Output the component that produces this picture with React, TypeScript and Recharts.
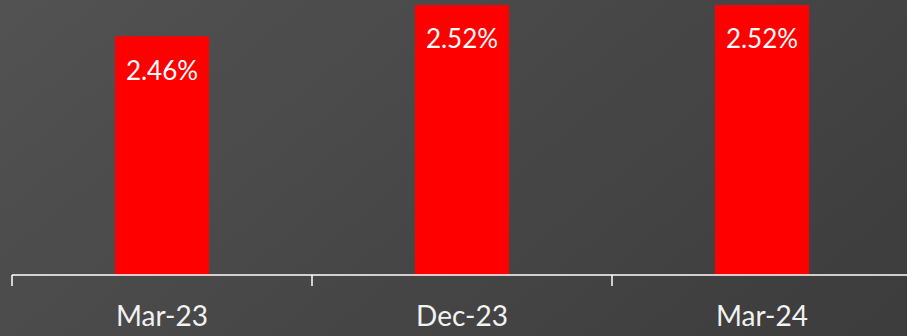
import { BarChart, Bar, XAxis, YAxis, LabelList } from 'recharts';

const periods = ['Mar-23', 'Dec-23', 'Mar-24'];
const ratios = [2.46, 2.52, 2.52];
const boundaryTicks = [0, 1, 2, 3];

const data = periods.map((name, i) => ({ name, idx: i, value: ratios[i] }));

const font = "Lato, 'Open Sans', sans-serif";

export default function App() {
  return (
    <div
      style={{
        position: 'fixed',
        left: 0,
        top: 0,
        width: 907,
        height: 336,
        overflow: 'hidden',
        background: 'linear-gradient(140deg, #525252 0%, #474747 50%, #3c3c3c 100%)',
      }}
    >
      <BarChart width={912} height={336} data={data} margin={{ top: 5, right: 0, left: 12, bottom: 0 }}>
        <YAxis hide domain={[2.0, 2.52]} allowDataOverflow />
        {/* boundary ticks between categories */}
        <XAxis
          xAxisId="a"
          type="number"
          dataKey="idx"
          domain={[0, 3]}
          ticks={boundaryTicks}
          tick={() => <g />}
          tickSize={11}
          height={1}
          axisLine={{ stroke: '#ffffff', strokeWidth: 1.5 }}
          tickLine={{ stroke: '#ffffff', strokeWidth: 1.5 }}
        />
        <XAxis
          xAxisId="b"
          dataKey="name"
          height={60}
          axisLine={false}
          tickLine={false}
          tickMargin={24}
          tick={{ fill: '#f2f2f2', fontSize: 28, fontFamily: font }}
        />
        <Bar xAxisId="b" dataKey="value" fill="#ff0000" barSize={94} isAnimationActive={false}>
          <LabelList
            dataKey="value"
            position="insideTop"
            offset={25}
            formatter={(v: any) => `${Number(v).toFixed(2)}%`}
            style={{ fill: '#ffffff', fontSize: 26, fontFamily: font }}
          />
        </Bar>
      </BarChart>
    </div>
  );
}
